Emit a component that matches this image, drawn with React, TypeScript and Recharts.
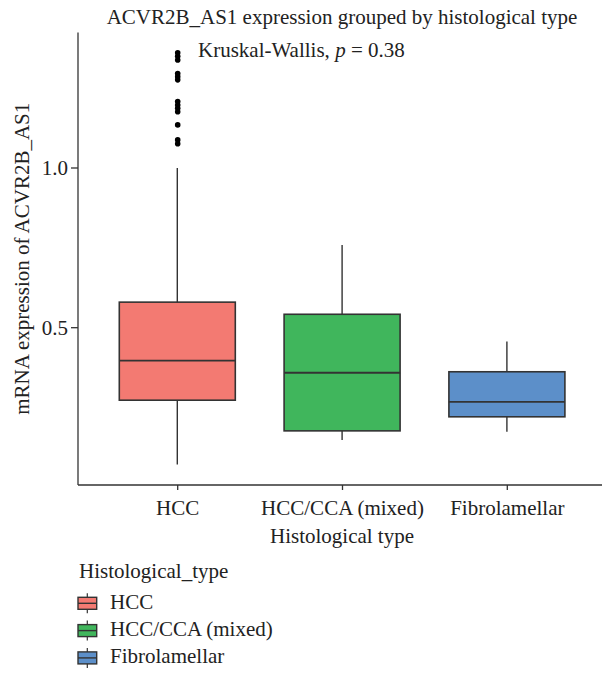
import { ComposedChart, Bar, Scatter, XAxis, YAxis, Cell } from "recharts";

const categories = ["HCC", "HCC/CCA (mixed)", "Fibrolamellar"];
const whiskerLow = [0.072, 0.148, 0.174];
const q1 = [0.273, 0.177, 0.221];
const median = [0.397, 0.359, 0.268];
const q3 = [0.58, 0.542, 0.362];
const whiskerHigh = [1.0, 0.759, 0.457];
const hccOutliers = [1.361, 1.35, 1.338, 1.296, 1.286, 1.276, 1.208, 1.197, 1.187, 1.176, 1.135, 1.088, 1.076];
const colors = ["#F37A72", "#40B65C", "#5C8FC9"];
const yTicks = [0.5, 1.0];

const boxData = categories.map((name, i) => ({
  name,
  low: whiskerLow[i],
  q1: q1[i],
  median: median[i],
  q3: q3[i],
  high: whiskerHigh[i],
}));

const outlierData = hccOutliers.map((value) => ({ name: "HCC", value }));

const FONT = "'Liberation Serif', 'DejaVu Serif', serif";
const INK = "#333333";

function BoxShape(props: any) {
  const { x, y, width, height, payload, fill } = props;
  const top = Math.min(y, y + height);
  const bot = Math.max(y, y + height);
  const { low, high } = payload;
  // map a value into pixels using the bar's own scaled extent (low..high)
  const toY = (v: number) => top + ((high - v) / (high - low)) * (bot - top);
  const cx = x + width / 2;
  const yQ1 = toY(payload.q1);
  const yQ3 = toY(payload.q3);
  const yMed = toY(payload.median);
  return (
    <g>
      <line x1={cx} x2={cx} y1={top} y2={yQ3} stroke={INK} strokeWidth={1.4} />
      <line x1={cx} x2={cx} y1={yQ1} y2={bot} stroke={INK} strokeWidth={1.4} />
      <rect x={x} y={yQ3} width={width} height={yQ1 - yQ3} fill={fill} stroke={INK} strokeWidth={1.6} />
      <line x1={x} x2={x + width} y1={yMed} y2={yMed} stroke={INK} strokeWidth={1.8} />
    </g>
  );
}

function Dot(props: any) {
  return <circle cx={props.cx} cy={props.cy} r={2.8} fill="#000" />;
}

function LegendIcon({ y, color }: { y: number; color: string }) {
  return (
    <g>
      <line x1={87.3} x2={87.3} y1={y - 4} y2={y + 16} stroke={INK} strokeWidth={1.2} />
      <rect x={78} y={y} width={18.7} height={12} fill={color} stroke={INK} strokeWidth={1.4} />
      <line x1={78} x2={96.7} y1={y + 6} y2={y + 6} stroke={INK} strokeWidth={1.4} />
    </g>
  );
}

export default function App() {
  return (
    <div style={{ position: "absolute", left: 0, top: 0, width: 602, height: 673, background: "#fff", fontFamily: FONT }}>
      <ComposedChart
        width={602}
        height={673}
        data={boxData}
        margin={{ top: 32.6, right: 0, bottom: 128, left: 0 }}
        style={{ fontFamily: FONT }}
      >
        <XAxis
          dataKey="name"
          type="category"
          allowDuplicatedCategory={false}
          height={60}
          padding={{ left: 17.3, right: 12.3 }}
          stroke={INK}
          strokeWidth={1.3}
          tickSize={5}
          tickMargin={10}
          tick={{ fill: "#222", fontSize: 21, fontFamily: FONT }}
        />
        <YAxis
          type="number"
          width={78}
          domain={[0.0075, 1.4239]}
          allowDataOverflow
          ticks={yTicks}
          tickFormatter={(v: number) => v.toFixed(1)}
          stroke={INK}
          strokeWidth={1.3}
          tickSize={7}
          tickMargin={3}
          tick={{ fill: "#222", fontSize: 21, fontFamily: FONT }}
        />
        <Bar dataKey={(d: any) => [d.low, d.high]} barSize={116} shape={<BoxShape />} isAnimationActive={false}>
          {boxData.map((d, i) => (
            <Cell key={d.name} fill={colors[i]} />
          ))}
        </Bar>
        <Scatter data={outlierData} dataKey="value" shape={<Dot />} isAnimationActive={false} />
      </ComposedChart>
      <svg
        width={602}
        height={673}
        style={{ position: "absolute", left: 0, top: 0, pointerEvents: "none" }}
        fontFamily={FONT}
        fontSize={21}
        fill="#222"
      >
        <text x={342} y={24} textAnchor="middle">
          ACVR2B_AS1 expression grouped by histological type
        </text>
        <text x={198} y={57}>
          Kruskal-Wallis, <tspan fontStyle="italic">p</tspan> = 0.38
        </text>
        <text x={342} y={543} textAnchor="middle">
          Histological type
        </text>
        <text transform="translate(29, 258.8) rotate(-90)" textAnchor="middle">
          mRNA expression of ACVR2B_AS1
        </text>
        <text x={79} y={578}>
          Histological_type
        </text>
        {categories.map((name, i) => (
          <g key={name}>
            <LegendIcon y={597.3 + i * 27.3} color={colors[i]} />
            <text x={110} y={608.5 + i * 27.4}>
              {name}
            </text>
          </g>
        ))}
      </svg>
    </div>
  );
}
